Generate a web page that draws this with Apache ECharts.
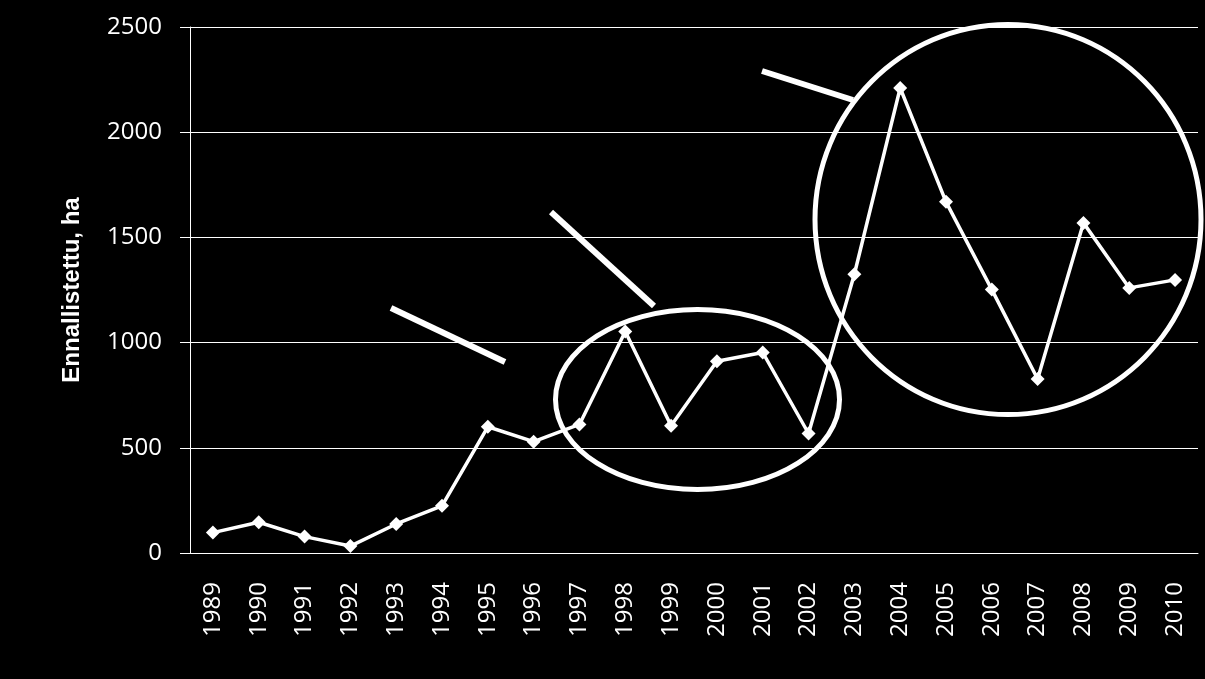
<!DOCTYPE html>
<html>
<head>
<meta charset="utf-8">
<script src="https://cdn.jsdelivr.net/npm/echarts@6/dist/echarts.min.js"></script>
<style>
html,body{margin:0;padding:0;background:#000;}
#c{width:1205px;height:679px;}
</style>
</head>
<body>
<div id="c"></div>
<script>
const years = ['1989','1990','1991','1992','1993','1994','1995','1996','1997','1998','1999','2000','2001','2002','2003','2004','2005','2006','2007','2008','2009','2010'];
const restored = [97,146,78,33,138,224,600,529,611,1053,605,911,953,568,1325,2210,1669,1252,827,1569,1260,1298];
const yTicks = {min:0, max:2500, interval:500};
const yTitle = 'Ennallistettu, ha';

const chart = echarts.init(document.getElementById('c'), null, {renderer:'canvas'});
const labelFont = {color:'#fff', fontFamily:'Open Sans', fontSize:24};
chart.setOption({
  backgroundColor:'#000',
  animation:false,
  grid:{left:190, right:7, top:27, bottom:126, containLabel:false},
  xAxis:{
    type:'category', data:years, boundaryGap:true,
    axisLine:{show:true, lineStyle:{color:'#fff', width:1}},
    axisTick:{show:false},
    axisLabel:Object.assign({rotate:90, margin:29, interval:0}, labelFont),
    splitLine:{show:false}
  },
  yAxis:{
    type:'value', min:yTicks.min, max:yTicks.max, interval:yTicks.interval,
    name:yTitle, nameLocation:'middle', nameGap:106, nameRotate:90,
    nameTextStyle:{color:'#fff', fontFamily:'Liberation Sans', fontWeight:'bold', fontSize:24},
    axisLine:{show:true, lineStyle:{color:'#fff', width:1}},
    axisTick:{show:true, length:10, inside:false, lineStyle:{color:'#fff', width:1}},
    axisLabel:Object.assign({margin:28, formatter:function(v){return String(v);}}, labelFont),
    splitLine:{show:true, lineStyle:{color:'#fff', width:1}}
  },
  series:[{
    type:'line', data:restored,
    symbol:'diamond', symbolSize:14,
    lineStyle:{color:'#fff', width:3.5},
    itemStyle:{color:'#fff'}
  }],
  graphic:[
    {type:'ellipse', shape:{cx:697.5, cy:399.5, rx:142, ry:90}, style:{fill:null, stroke:'#fff', lineWidth:5}, z:100},
    {type:'ellipse', shape:{cx:1008, cy:219.5, rx:193, ry:195}, style:{fill:null, stroke:'#fff', lineWidth:5}, z:100},
    {type:'line', shape:{x1:391, y1:308, x2:505, y2:362}, style:{stroke:'#fff', lineWidth:6}, z:100},
    {type:'line', shape:{x1:551, y1:212, x2:654, y2:306}, style:{stroke:'#fff', lineWidth:6}, z:100},
    {type:'line', shape:{x1:762, y1:71, x2:853, y2:100}, style:{stroke:'#fff', lineWidth:6}, z:100}
  ]
});
</script>
</body>
</html>
